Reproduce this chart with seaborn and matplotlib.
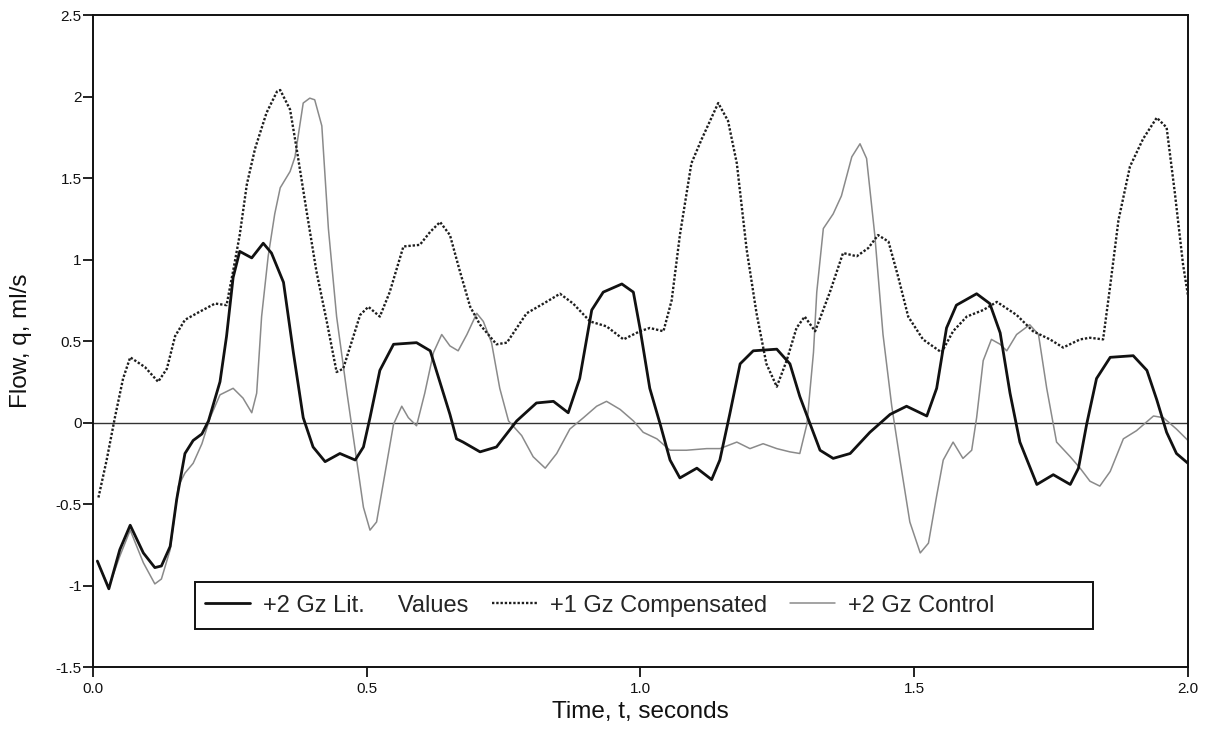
import matplotlib
matplotlib.use("Agg")
import matplotlib.pyplot as plt
from matplotlib.patches import Rectangle
from matplotlib.ticker import FuncFormatter, MultipleLocator
import pandas as pd
import seaborn as sns

# Flow traces, time in seconds, flow in ml/s
lit_t = [0.008, 0.029, 0.049, 0.068, 0.092, 0.113, 0.125, 0.141, 0.153, 0.168,
         0.183, 0.199, 0.211, 0.232, 0.244, 0.256, 0.268, 0.290, 0.311, 0.326,
         0.348, 0.366, 0.384, 0.402, 0.424, 0.451, 0.479, 0.494, 0.506, 0.524,
         0.549, 0.591, 0.616, 0.640, 0.652, 0.664, 0.676, 0.707, 0.737, 0.774,
         0.810, 0.841, 0.868, 0.889, 0.911, 0.932, 0.966, 0.987, 0.999, 1.017,
         1.036, 1.054, 1.072, 1.103, 1.130, 1.145, 1.163, 1.182, 1.206, 1.249,
         1.273, 1.291, 1.310, 1.328, 1.352, 1.383, 1.419, 1.456, 1.486, 1.523,
         1.541, 1.559, 1.577, 1.614, 1.638, 1.657, 1.675, 1.693, 1.724, 1.754,
         1.785, 1.800, 1.815, 1.833, 1.858, 1.900, 1.925, 1.943, 1.961, 1.979,
         2.000]
lit_q = [-0.85, -1.02, -0.78, -0.63, -0.80, -0.89, -0.88, -0.76, -0.47, -0.19,
         -0.11, -0.07, 0.01, 0.25, 0.53, 0.89, 1.05, 1.01, 1.10, 1.04,
         0.86, 0.43, 0.03, -0.15, -0.24, -0.19, -0.23, -0.15, 0.03, 0.32,
         0.48, 0.49, 0.44, 0.18, 0.05, -0.10, -0.12, -0.18, -0.15, 0.01,
         0.12, 0.13, 0.06, 0.27, 0.69, 0.80, 0.85, 0.80, 0.58, 0.21,
         -0.01, -0.23, -0.34, -0.28, -0.35, -0.23, 0.05, 0.36, 0.44, 0.45,
         0.36, 0.16, -0.01, -0.17, -0.22, -0.19, -0.06, 0.05, 0.10, 0.04,
         0.21, 0.58, 0.72, 0.79, 0.73, 0.55, 0.18, -0.12, -0.38, -0.32,
         -0.38, -0.28, -0.01, 0.27, 0.40, 0.41, 0.32, 0.14, -0.06, -0.19,
         -0.25]

comp_t = [0.010, 0.025, 0.040, 0.055, 0.068, 0.095, 0.119, 0.135, 0.150, 0.168,
          0.195, 0.223, 0.244, 0.256, 0.268, 0.281, 0.296, 0.317, 0.336, 0.342,
          0.360, 0.372, 0.390, 0.408, 0.427, 0.445, 0.457, 0.472, 0.488, 0.503,
          0.524, 0.542, 0.567, 0.597, 0.616, 0.634, 0.652, 0.670, 0.689, 0.707,
          0.737, 0.756, 0.792, 0.823, 0.853, 0.877, 0.908, 0.938, 0.969, 0.999,
          1.017, 1.042, 1.057, 1.072, 1.093, 1.112, 1.142, 1.160, 1.176, 1.194,
          1.212, 1.230, 1.249, 1.267, 1.285, 1.300, 1.319, 1.346, 1.370, 1.395,
          1.416, 1.434, 1.453, 1.471, 1.489, 1.516, 1.550, 1.571, 1.596, 1.626,
          1.651, 1.687, 1.717, 1.748, 1.772, 1.803, 1.821, 1.845, 1.858, 1.873,
          1.894, 1.918, 1.943, 1.961, 1.976, 1.991, 2.000]
comp_q = [-0.46, -0.23, 0.03, 0.27, 0.40, 0.34, 0.25, 0.33, 0.53, 0.63,
          0.68, 0.73, 0.72, 0.93, 1.15, 1.46, 1.68, 1.90, 2.03, 2.04,
          1.92, 1.68, 1.30, 0.93, 0.62, 0.31, 0.33, 0.49, 0.66, 0.71,
          0.65, 0.80, 1.08, 1.09, 1.17, 1.23, 1.15, 0.93, 0.71, 0.60,
          0.48, 0.49, 0.67, 0.73, 0.79, 0.73, 0.62, 0.59, 0.51, 0.56,
          0.58, 0.56, 0.75, 1.15, 1.59, 1.74, 1.96, 1.85, 1.59, 1.06,
          0.67, 0.36, 0.22, 0.38, 0.58, 0.65, 0.56, 0.80, 1.04, 1.02,
          1.07, 1.15, 1.11, 0.89, 0.65, 0.51, 0.43, 0.56, 0.65, 0.69,
          0.74, 0.66, 0.56, 0.51, 0.46, 0.51, 0.52, 0.51, 0.84, 1.24,
          1.57, 1.74, 1.87, 1.81, 1.41, 0.97, 0.78]

ctrl_t = [0.010, 0.029, 0.049, 0.068, 0.092, 0.113, 0.125, 0.141, 0.156, 0.168,
          0.183, 0.199, 0.214, 0.232, 0.256, 0.274, 0.290, 0.299, 0.308, 0.320,
          0.332, 0.342, 0.360, 0.369, 0.384, 0.396, 0.405, 0.418, 0.430, 0.445,
          0.464, 0.479, 0.494, 0.506, 0.518, 0.534, 0.549, 0.564, 0.576, 0.591,
          0.606, 0.622, 0.637, 0.652, 0.667, 0.683, 0.701, 0.713, 0.728, 0.743,
          0.759, 0.783, 0.804, 0.826, 0.847, 0.871, 0.896, 0.920, 0.938, 0.963,
          0.987, 1.005, 1.030, 1.054, 1.084, 1.121, 1.145, 1.176, 1.200, 1.224,
          1.249, 1.273, 1.291, 1.304, 1.316, 1.322, 1.334, 1.352, 1.367, 1.386,
          1.401, 1.413, 1.428, 1.443, 1.459, 1.474, 1.492, 1.511, 1.526, 1.541,
          1.553, 1.571, 1.589, 1.605, 1.614, 1.626, 1.641, 1.657, 1.669, 1.687,
          1.711, 1.727, 1.742, 1.760, 1.785, 1.803, 1.821, 1.839, 1.858, 1.882,
          1.906, 1.937, 1.955, 1.979, 2.000]
ctrl_q = [-0.87, -1.01, -0.82, -0.66, -0.86, -0.99, -0.96, -0.78, -0.39, -0.31,
          -0.25, -0.13, 0.03, 0.17, 0.21, 0.15, 0.06, 0.18, 0.65, 1.02,
          1.28, 1.44, 1.54, 1.63, 1.96, 1.99, 1.98, 1.82, 1.19, 0.65,
          0.18, -0.17, -0.52, -0.66, -0.61, -0.30, -0.01, 0.10, 0.03, -0.02,
          0.18, 0.43, 0.54, 0.47, 0.44, 0.54, 0.67, 0.62, 0.49, 0.21,
          0.01, -0.08, -0.21, -0.28, -0.19, -0.04, 0.03, 0.10, 0.13, 0.08,
          0.01, -0.06, -0.10, -0.17, -0.17, -0.16, -0.16, -0.12, -0.16, -0.13,
          -0.16, -0.18, -0.19, -0.01, 0.43, 0.80, 1.19, 1.28, 1.39, 1.63,
          1.71, 1.62, 1.15, 0.54, 0.10, -0.23, -0.61, -0.80, -0.74, -0.45,
          -0.23, -0.12, -0.22, -0.17, 0.03, 0.38, 0.51, 0.48, 0.44, 0.54,
          0.60, 0.54, 0.21, -0.12, -0.21, -0.28, -0.36, -0.39, -0.30, -0.10,
          -0.05, 0.04, 0.03, -0.04, -0.11]

series_labels = ["+2 Gz Lit.     Values", "+1 Gz Compensated", "+2 Gz Control"]
x_label = "Time, t, seconds"
y_label = "Flow, q, ml/s"

sns.set_theme(style="ticks")
plt.rcParams["font.family"] = ["Liberation Sans", "DejaVu Sans"]
plt.rcParams["axes.linewidth"] = 1.4

fig = plt.figure(figsize=(12.09, 7.29), dpi=100)
ax = fig.add_axes([0.0769, 0.0850, 0.9057, 0.8944])

lit = pd.DataFrame({"t": lit_t, "q": lit_q})
comp = pd.DataFrame({"t": comp_t, "q": comp_q})
ctrl = pd.DataFrame({"t": ctrl_t, "q": ctrl_q})

ax.axhline(0, color="#333333", lw=1.0, zorder=1)

sns.lineplot(data=lit, x="t", y="q", ax=ax, color="#111111", lw=2.0,
             label=series_labels[0], zorder=4)
sns.lineplot(data=comp, x="t", y="q", ax=ax, color="#1e1e1e", lw=1.7,
             dashes=False, label=series_labels[1], zorder=3)
ax.lines[-1].set_linestyle((0, (1.0, 0.8)))
sns.lineplot(data=ctrl, x="t", y="q", ax=ax, color="#8a8a8a", lw=1.1,
             label=series_labels[2], zorder=2)

ax.set_xlim(0, 2.0)
ax.set_ylim(-1.5, 2.5)
ax.xaxis.set_major_locator(MultipleLocator(0.5))
ax.yaxis.set_major_locator(MultipleLocator(0.5))
ax.xaxis.set_major_formatter(FuncFormatter(lambda v, p: f"{v:.1f}"))
ax.yaxis.set_major_formatter(FuncFormatter(lambda v, p: f"{v:g}"))
ax.tick_params(axis="both", direction="out", length=7, width=1.3,
               colors="#111111", labelsize=11)
ax.tick_params(axis="x", pad=4)
ax.tick_params(axis="y", pad=1)
for s in ax.spines.values():
    s.set_color("#111111")
    s.set_visible(True)

ax.set_xlabel(x_label, fontsize=17.5, color="#111111")
ax.set_ylabel(y_label, fontsize=17.5, color="#111111")
ax.xaxis.set_label_coords(0.5, -0.052)
ax.yaxis.set_label_coords(-0.056, 0.5)

# legend: single row inside a plain rectangular frame
frame = Rectangle((0.0932, 0.0583), 0.8201, 0.0721, transform=ax.transAxes,
                  facecolor="white", edgecolor="#111111", lw=1.4, zorder=5)
ax.add_patch(frame)
leg = ax.legend(loc="center left", bbox_to_anchor=(0.1023, 0.0943), ncol=3,
                frameon=False, fontsize=17, handlelength=1.9,
                handletextpad=0.55, columnspacing=1.0, borderpad=0,
                borderaxespad=0)
leg.set_zorder(6)

fig.savefig("out.png", dpi=100)
